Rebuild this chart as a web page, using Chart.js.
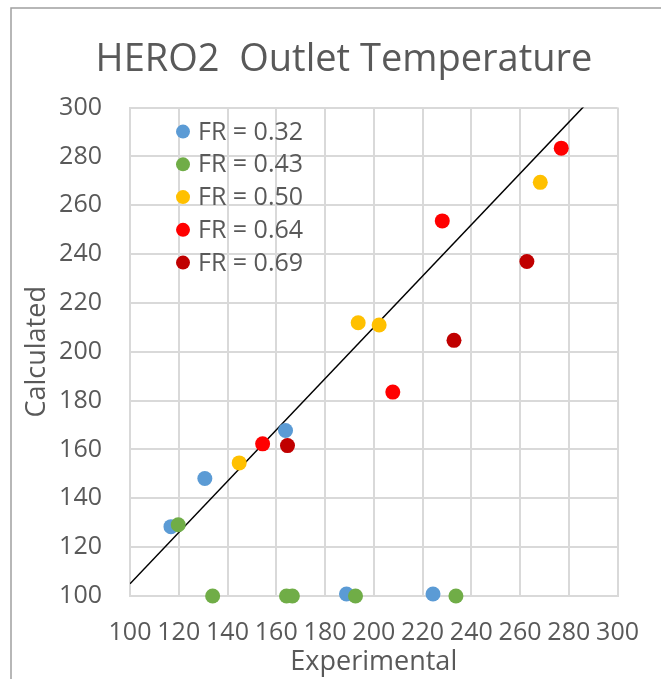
<!DOCTYPE html>
<html>
<head>
<meta charset="utf-8">
<title>HERO2 Outlet Temperature</title>
<script src="https://cdn.jsdelivr.net/npm/chart.js@4.4.0/dist/chart.umd.min.js"></script>
<style>
  html, body { margin: 0; padding: 0; background: #fff; }
  #wrap { width: 661px; height: 679px; }
</style>
</head>
<body>
<div id="wrap"><canvas id="myChart" width="661" height="679"></canvas></div>
<script>
const seriesNames = ["FR = 0.32", "FR = 0.43", "FR = 0.50", "FR = 0.64", "FR = 0.69"];
const seriesColors = ["#5B9BD5", "#70AD47", "#FFC000", "#FF0000", "#C00000"];

// experimental (x) and calculated (y) values per flow ratio
const fr032X = [116.8, 130.7, 163.8, 188.8, 224.3];
const fr032Y = [128.4, 148.1, 167.8, 100.8, 100.8];
const fr043X = [119.8, 133.9, 164.2, 166.6, 192.5, 233.7];
const fr043Y = [129.2, 100, 100, 100, 100, 100];
const fr050X = [144.8, 193.6, 202.2, 268.3];
const fr050Y = [154.5, 211.9, 211.0, 269.4];
const fr064X = [154.4, 207.8, 228.1, 276.9];
const fr064Y = [162.3, 183.5, 253.6, 283.4];
const fr069X = [164.6, 232.9, 262.8];
const fr069Y = [161.6, 204.7, 237.0];

// reference line
const refLineX = [100, 300];
const refLineY = [105, 315];

const xTicks = [100, 120, 140, 160, 180, 200, 220, 240, 260, 280, 300];
const yTicks = [100, 120, 140, 160, 180, 200, 220, 240, 260, 280, 300];

const fontName = "'Open Sans', 'Liberation Sans', sans-serif";
const textColor = "#595959";
const gridColor = "#d9d9d9";

function toPoints(xs, ys) {
    return xs.map((x, i) => ({ x: x, y: ys[i] }));
}

let allX = [fr032X, fr043X, fr050X, fr064X, fr069X];
let allY = [fr032Y, fr043Y, fr050Y, fr064Y, fr069Y];

let datasets = seriesNames.map((name, i) => ({
    label: name,
    data: toPoints(allX[i], allY[i]),
    backgroundColor: seriesColors[i],
    borderWidth: 0,
    pointRadius: 7.5,
    pointHoverRadius: 7.5,
    clip: false,
    order: seriesNames.length - i
}));

datasets.push({
    label: "ref",
    type: "line",
    data: toPoints(refLineX, refLineY),
    borderColor: "#000000",
    borderWidth: 1.5,
    pointRadius: 0,
    fill: false,
    order: 10
});

// outer chart frame (only top and left edges are visible)
const framePlugin = {
    id: "frame",
    afterLayout(chart) {
        // the original frame is wider than the picture, so its title sits right of centre
        if (chart.titleBlock) chart.titleBlock.left += 70;
    },
    beforeDraw(chart) {
        let ctx = chart.ctx;
        ctx.save();
        ctx.strokeStyle = "#a0a0a0";
        ctx.lineWidth = 1.5;
        ctx.beginPath();
        ctx.moveTo(11, chart.height);
        ctx.lineTo(11, 8);
        ctx.lineTo(chart.width, 8);
        ctx.stroke();
        ctx.restore();
    }
};

// legend drawn inside the plot area, top left
const innerLegend = {
    id: "innerLegend",
    afterDatasetsDraw(chart) {
        let ctx = chart.ctx;
        let area = chart.chartArea;
        ctx.save();
        ctx.font = "25px " + fontName;
        ctx.textBaseline = "middle";
        ctx.textAlign = "left";
        seriesNames.forEach((name, i) => {
            let cy = area.top + 24 + i * 32.75;
            ctx.fillStyle = seriesColors[i];
            ctx.beginPath();
            ctx.arc(area.left + 53, cy, 7, 0, Math.PI * 2);
            ctx.fill();
            ctx.fillStyle = textColor;
            ctx.fillText(name, area.left + 68, cy + 1);
        });
        ctx.restore();
    }
};

new Chart("myChart", {
    type: "scatter",
    data: { datasets: datasets },
    plugins: [framePlugin, innerLegend],
    options: {
        responsive: false,
        animation: false,
        devicePixelRatio: 1,
        layout: { padding: { left: 0, right: 43, top: 0, bottom: 0 } },
        plugins: {
            legend: { display: false },
            tooltip: { enabled: false },
            title: {
                display: true,
                text: "HERO2  Outlet Temperature",
                color: textColor,
                font: { family: fontName, size: 38, weight: "normal" },
                padding: { top: 37, bottom: 25 }
            }
        },
        scales: {
            x: {
                type: "linear",
                min: 100,
                max: 300,
                afterBuildTicks: s => { s.ticks = xTicks.map(v => ({ value: v })); },
                afterFit: s => { s.height = 83; },
                ticks: {
                    color: textColor,
                    font: { family: fontName, size: 25 },
                    padding: 22,
                    maxRotation: 0
                },
                grid: { color: gridColor, lineWidth: 2, drawTicks: false },
                border: { color: gridColor, width: 2 },
                title: {
                    display: true,
                    text: "Experimental",
                    color: textColor,
                    font: { family: fontName, size: 27 },
                    padding: { top: 0, bottom: 0 }
                }
            },
            y: {
                type: "linear",
                min: 100,
                max: 300,
                afterBuildTicks: s => { s.ticks = yTicks.map(v => ({ value: v })); },
                afterFit: s => { s.width = 130; },
                ticks: {
                    color: textColor,
                    font: { family: fontName, size: 25 },
                    padding: 28
                },
                grid: { color: gridColor, lineWidth: 2, drawTicks: false },
                border: { color: gridColor, width: 2 },
                title: {
                    display: true,
                    text: "Calculated",
                    color: textColor,
                    font: { family: fontName, size: 27 },
                    padding: { top: 21, bottom: 0 }
                }
            }
        }
    }
});
</script>
</body>
</html>
